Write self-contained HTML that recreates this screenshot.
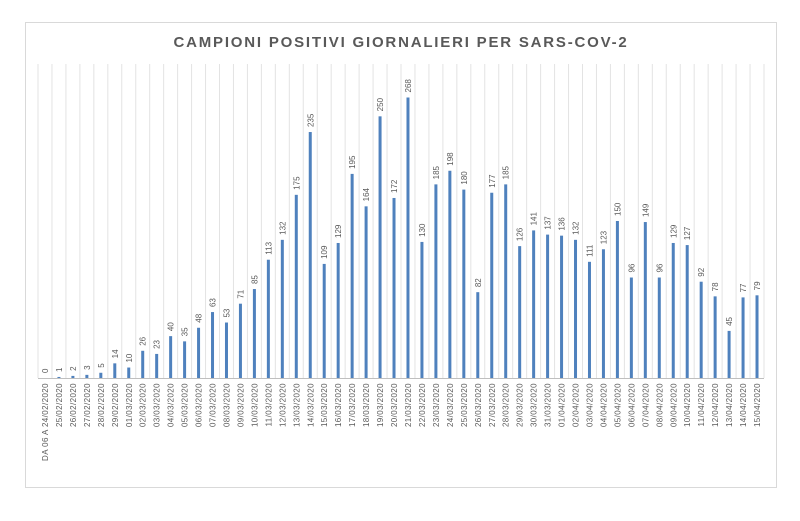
<!DOCTYPE html>
<html><head><meta charset="utf-8"><style>
body{margin:0;background:#fff;width:800px;height:516px;overflow:hidden;font-family:"Liberation Sans",sans-serif}
</style></head><body>
<svg id="chart" width="800" height="516" xmlns="http://www.w3.org/2000/svg">
<rect x="25.5" y="22.5" width="751" height="465" fill="#fff" stroke="#d9d9d9"/>
<text x="401" y="47" text-anchor="middle" font-size="15" font-weight="bold" fill="#595959" letter-spacing="1.8">CAMPIONI POSITIVI GIORNALIERI PER SARS-COV-2</text>
<g id="grid"></g><g id="bars"></g><g id="vals"></g><g id="xlabels"></g>
<line x1="38" y1="378.5" x2="764" y2="378.5" stroke="#bfbfbf"/>
</svg>
<script>
const categories=["DA 06 A 24/02/2020","25/02/2020","26/02/2020","27/02/2020","28/02/2020","29/02/2020","01/03/2020","02/03/2020","03/03/2020","04/03/2020","05/03/2020","06/03/2020","07/03/2020","08/03/2020","09/03/2020","10/03/2020","11/03/2020","12/03/2020","13/03/2020","14/03/2020","15/03/2020","16/03/2020","17/03/2020","18/03/2020","19/03/2020","20/03/2020","21/03/2020","22/03/2020","23/03/2020","24/03/2020","25/03/2020","26/03/2020","27/03/2020","28/03/2020","29/03/2020","30/03/2020","31/03/2020","01/04/2020","02/04/2020","03/04/2020","04/04/2020","05/04/2020","06/04/2020","07/04/2020","08/04/2020","09/04/2020","10/04/2020","11/04/2020","12/04/2020","13/04/2020","14/04/2020","15/04/2020"];
const values=[0,1,2,3,5,14,10,26,23,40,35,48,63,53,71,85,113,132,175,235,109,129,195,164,250,172,268,130,185,198,180,82,177,185,126,141,137,136,132,111,123,150,96,149,96,129,127,92,78,45,77,79];
const yMax=300;
const X0=38,X1=764,Y0=378,YT=64;
const n=categories.length,bw=(X1-X0)/n;
const x=i=>X0+bw*(i+0.5);
const y=v=>Y0-(v/yMax)*(Y0-YT);
const NS="http://www.w3.org/2000/svg";
function mk(t,a,p){const e=document.createElementNS(NS,t);for(const k in a)e.setAttribute(k,a[k]);p.appendChild(e);return e;}
const g=document.getElementById('grid'),b=document.getElementById('bars'),vl=document.getElementById('vals'),xl=document.getElementById('xlabels');
for(let i=0;i<=n;i++){
  const l=mk('line',{x1:X0+bw*i,x2:X0+bw*i,y1:YT,y2:Y0,stroke:'#e3e3e3','stroke-width':1},g);
  
  
}
values.forEach((v,i)=>{
  const r=mk('rect',{x:x(i)-1.5,y:y(v),width:3,height:Y0-y(v),fill:'#4f81bd'},b);
  
  
  const t=mk('text',{transform:`translate(${x(i)+3},${y(v)-5}) rotate(-90)`,'font-size':8,fill:'#595959'},vl);
  t.textContent=v;
  
  
  const c=mk('text',{transform:`translate(${x(i)+3},${Y0+5}) rotate(-90)`,'font-size':8,fill:'#595959','text-anchor':'end','letter-spacing':0.4},xl);
  c.textContent=categories[i];
  
  
});
</script>
</body></html>
